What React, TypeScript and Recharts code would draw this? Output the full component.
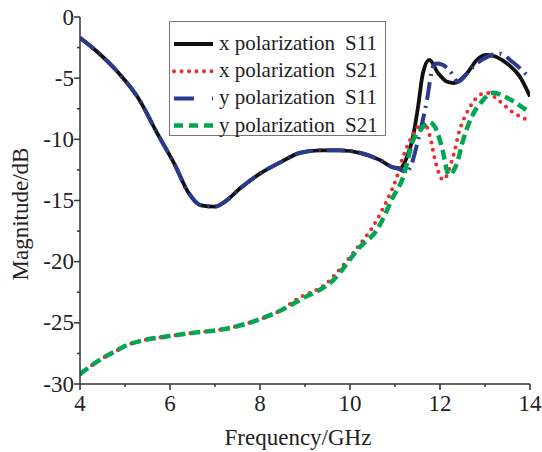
import React from 'react';
import { LineChart, Line, XAxis, YAxis, Customized } from 'recharts';

const xS11Freq = [4, 4.4, 4.84, 5.29, 5.73, 6.11, 6.4, 6.69, 7.0, 7.22, 7.56, 8.0, 8.44, 8.89, 9.33, 9.78, 10.22, 10.67, 10.96, 11.11, 11.27, 11.4, 11.51, 11.62, 11.76, 11.96, 12.16, 12.31, 12.6, 12.82, 13.04, 13.49, 13.78, 14];
const xS11Mag = [-1.7, -2.9, -4.5, -6.6, -9.6, -12.1, -14.3, -15.4, -15.5, -15.1, -14.0, -12.8, -11.9, -11.1, -10.9, -10.9, -11.1, -11.7, -12.3, -12.35, -11.4, -9.8, -7.4, -4.6, -3.5, -4.6, -5.3, -5.4, -4.6, -3.5, -3.1, -3.8, -4.9, -6.5];

const yS11Freq = [4, 4.4, 4.84, 5.29, 5.73, 6.11, 6.4, 6.69, 7.0, 7.22, 7.56, 8.0, 8.44, 8.89, 9.33, 9.78, 10.22, 10.67, 10.96, 11.11, 11.25, 11.36, 11.51, 11.71, 11.84, 11.92, 12.05, 12.22, 12.4, 12.67, 12.93, 13.33, 13.62, 14];
const yS11Mag = [-1.7, -2.9, -4.5, -6.6, -9.6, -12.1, -14.3, -15.4, -15.5, -15.1, -14.0, -12.8, -11.9, -11.1, -10.9, -10.9, -11.1, -11.7, -12.3, -12.45, -12.7, -12.1, -10.1, -6.8, -4.1, -3.8, -3.9, -4.4, -5.3, -4.3, -3.5, -3.0, -3.7, -5.0];

const xS21Freq = [4, 4.25, 4.5, 4.8, 5.0, 5.44, 5.95, 6.55, 7.07, 7.67, 8.0, 8.4, 8.85, 9.5, 9.8, 10.07, 10.3, 10.5, 10.67, 10.82, 11.04, 11.18, 11.33, 11.49, 11.62, 11.78, 11.89, 12.07, 12.27, 12.44, 12.63, 12.84, 13.04, 13.33, 13.62, 14];
const xS21Mag = [-29.2, -28.5, -27.9, -27.3, -26.9, -26.4, -26.1, -25.8, -25.6, -25.1, -24.7, -24.1, -23.0, -21.7, -20.5, -19.3, -18.2, -17.2, -16.1, -15.0, -13.1, -11.4, -10.1, -9.0, -8.6, -9.8, -11.7, -13.3, -11.7, -9.2, -7.6, -6.5, -6.2, -6.9, -7.8, -8.5];

const yS21Freq = [4, 4.25, 4.5, 4.8, 5.0, 5.44, 5.95, 6.55, 7.07, 7.67, 8.0, 8.4, 8.9, 9.63, 10.22, 10.6, 10.96, 11.18, 11.4, 11.62, 11.76, 11.89, 12.04, 12.2, 12.38, 12.51, 12.7, 12.93, 13.18, 13.49, 13.84, 14];
const yS21Mag = [-29.2, -28.5, -27.9, -27.3, -26.9, -26.4, -26.1, -25.8, -25.6, -25.1, -24.7, -24.1, -23.1, -21.5, -18.8, -17.4, -14.7, -13.1, -10.1, -9.0, -8.6, -9.0, -10.6, -12.9, -11.9, -10.1, -8.2, -6.9, -6.2, -6.6, -7.4, -7.8];

const xTicks = [4, 5, 6, 7, 8, 9, 10, 11, 12, 13, 14];
const yTicks = [-30, -27.5, -25, -22.5, -20, -17.5, -15, -12.5, -10, -7.5, -5, -2.5, 0];

const seriesNames = ['x polarization', 'x polarization', 'y polarization', 'y polarization'];
const seriesParams = ['S11', 'S21', 'S11', 'S21'];

const zip = (fs: number[], vs: number[]) => fs.map((f, i) => ({ f, v: vs[i] }));
const xS11 = zip(xS11Freq, xS11Mag);
const xS21 = zip(xS21Freq, xS21Mag);
const yS11 = zip(yS11Freq, yS11Mag);
const yS21 = zip(yS21Freq, yS21Mag);

const FONT = '"Liberation Serif", "Times New Roman", serif';
const AXIS = '#333';

const styles = [
  { stroke: '#111111', width: 3.8, dash: undefined as string | undefined, cap: 'butt' as const },
  { stroke: '#ee2a2f', width: 4, dash: '0 7.5', cap: 'round' as const },
  { stroke: '#2b3990', width: 4, dash: '18 6 2 6', cap: 'butt' as const },
  { stroke: '#00a650', width: 4.5, dash: '10 5', cap: 'butt' as const },
];

const XTick = (props: any) => {
  const { x, y, payload } = props;
  const v = payload.value;
  const major = v % 2 === 0;
  return (
    <g>
      <line x1={x} x2={x} y1={y} y2={y + (major ? 6 : 3)} stroke={AXIS} strokeWidth={1.5} />
      {major && (
        <text x={x} y={y + 27} textAnchor="middle" fontFamily={FONT} fontSize={23} fill="#222">
          {v}
        </text>
      )}
    </g>
  );
};

const YTick = (props: any) => {
  const { x, y, payload } = props;
  const v = payload.value;
  const major = v % 5 === 0;
  return (
    <g>
      <line x1={x - (major ? 6 : 3)} x2={x} y1={y} y2={y} stroke={AXIS} strokeWidth={1.5} />
      {major && (
        <text x={x - 6} y={y + 7.5} textAnchor="end" fontFamily={FONT} fontSize={23} fill="#222">
          {v}
        </text>
      )}
    </g>
  );
};

const Overlay = () => (
  <g>
    <text x={298} y={445} textAnchor="middle" fontFamily={FONT} fontSize={23} fill="#222">
      Frequency/GHz
    </text>
    <text
      x={28}
      y={214}
      textAnchor="middle"
      transform="rotate(-90 28 214)"
      fontFamily={FONT}
      fontSize={23}
      fill="#222"
    >
      Magnitude/dB
    </text>
    <g transform="translate(169 21)">
      <rect x={0.5} y={0.5} width={216} height={114} fill="#fff" stroke="#777" strokeWidth={1} />
      {styles.map((s, i) => {
        const cy = 23 + i * 27.2;
        return (
          <g key={i}>
            <line
              x1={5}
              x2={44}
              y1={cy}
              y2={cy}
              stroke={s.stroke}
              strokeWidth={s.width}
              strokeDasharray={i === 2 ? '20 18 2 40' : i === 3 ? '9 6' : s.dash}
              strokeLinecap={s.cap}
            />
            <text x={50} y={cy + 6} fontFamily={FONT} fontSize={21} fill="#222">
              {seriesNames[i]}
            </text>
            <text x={176} y={cy + 6} fontFamily={FONT} fontSize={21} fill="#222">
              {seriesParams[i]}
            </text>
          </g>
        );
      })}
    </g>
  </g>
);

export default function App() {
  return (
    <div style={{ position: 'absolute', left: 0, top: 0, width: 542, height: 452, background: '#fff' }}>
      <LineChart width={542} height={452} margin={{ top: 17, right: 12, bottom: 0, left: 0 }}>
        <XAxis
          dataKey="f"
          type="number"
          domain={[4, 14]}
          ticks={xTicks}
          interval={0}
          allowDataOverflow
          height={68}
          tickSize={0}
          tickMargin={0}
          tickLine={false}
          tick={<XTick />}
          axisLine={{ stroke: AXIS, strokeWidth: 1.5 }}
        />
        <XAxis
          xAxisId="top"
          orientation="top"
          dataKey="f"
          type="number"
          domain={[4, 14]}
          height={0}
          tick={false}
          tickLine={false}
          axisLine={{ stroke: AXIS, strokeWidth: 1.5 }}
        />
        <YAxis
          type="number"
          domain={[-30, 0]}
          ticks={yTicks}
          interval={0}
          allowDataOverflow
          width={80}
          tickSize={0}
          tickMargin={0}
          tickLine={false}
          tick={<YTick />}
          axisLine={{ stroke: AXIS, strokeWidth: 1.5 }}
        />
        <YAxis
          yAxisId="right"
          orientation="right"
          type="number"
          domain={[-30, 0]}
          width={0}
          tick={false}
          tickLine={false}
          axisLine={{ stroke: AXIS, strokeWidth: 1.5 }}
        />
        {[xS11, xS21, yS11, yS21].map((d, i) => (
          <Line
            key={i}
            data={d}
            dataKey="v"
            name={`${seriesNames[i]} ${seriesParams[i]}`}
            type="monotone"
            stroke={styles[i].stroke}
            strokeWidth={styles[i].width}
            strokeDasharray={styles[i].dash}
            strokeLinecap={styles[i].cap}
            dot={false}
            activeDot={false}
            isAnimationActive={false}
          />
        ))}
        <Customized component={Overlay} />
      </LineChart>
    </div>
  );
}
